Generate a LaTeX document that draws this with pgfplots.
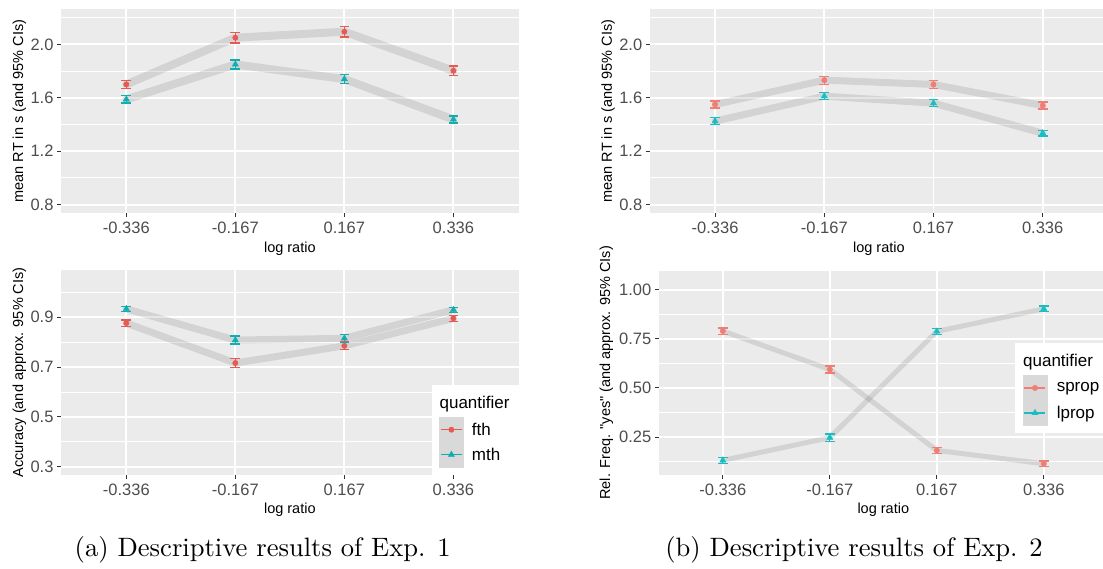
\documentclass[border=0pt]{standalone}
\usepackage{fontspec}
\usepackage{graphicx}
\usepackage{pgfplots}
\pgfplotsset{compat=1.18}
\newfontfamily\arial{Liberation Sans}
\definecolor{panel}{HTML}{EBEBEB}
\definecolor{g30}{HTML}{4D4D4D}
\definecolor{g20}{HTML}{333333}
\definecolor{redL}{HTML}{E65A53}
\definecolor{tealL}{HTML}{10ADB1}
\definecolor{redR}{HTML}{F07E75}
\definecolor{tealR}{HTML}{1ABEC2}
\definecolor{keyg}{HTML}{D9D9D9}

\pgfplotsset{
 gg/.style={
  scale only axis, anchor=south west,
  axis background/.style={fill=panel},
  axis line style={draw=none},
  xmin=0.4, xmax=4.6, xtick={1,2,3,4},
  xticklabels={-0.336,-0.167,0.167,0.336},
  xmajorgrids, ymajorgrids, yminorgrids,
  major grid style={white, line width=1.8pt},
  minor grid style={white, line width=0.9pt},
  tick pos=left, tick align=outside,
  major tick length=3.7pt, minor tick length=0pt,
  tick style={g20, line width=1pt},
  ticklabel style={font=\arial\fontsize{16.5}{18}\selectfont, text=g30},
  /pgf/number format/assume math mode=true,
  yticklabel style={inner xsep=3.5pt, /pgf/number format/fixed, /pgf/number format/fixed zerofill, /pgf/number format/precision=1},
  xticklabel style={inner ysep=5pt},
  label style={font=\arial\fontsize{14.5}{16}\selectfont, text=black},
  xlabel={log ratio},
  legend cell align=left,
 },
 band/.style={draw=black, draw opacity=0.1, line width=#1, line join=round, line cap=round, forget plot, no markers},
 pts/.style n args={3}{only marks, color=#1, mark=#2, mark size=#3, mark options={fill=#1, draw=#1, solid}, forget plot,
   error bars/.cd, y dir=both, y explicit, error bar style={line width=1.3pt, #1},
   error mark options={rotate=90, mark size=4.85pt, line width=1.3pt, #1}},
 leg/.style n args={3}{legend image code/.code={
  \fill[keyg] (0pt,-12.3pt) rectangle (24pt,12.3pt);
  \draw[#1, line width=1.3pt] (1.5pt,0pt) -- (22.5pt,0pt);
  \draw[#1, fill=#1, mark=#2, mark size=#3] plot coordinates {(12pt,0pt)};}},
 legtitle/.style={legend image code/.code={
  \path[draw=none, fill=none] (0pt,-14.4pt) rectangle (24pt,10pt);
  \node[overlay, draw=none, fill=none, anchor=west, inner sep=0pt, text=black, font=\arial\fontsize{17}{19}\selectfont] at (0pt,0pt) {quantifier};}},
}

\pgfplotstableread{
x y e
1 1.700 0.031
2 2.050 0.040
3 2.095 0.040
4 1.803 0.034
}\tlfth
\pgfplotstableread{
x y e
1 1.588 0.028
2 1.850 0.034
3 1.740 0.032
4 1.438 0.026
}\tlmth
\pgfplotstableread{
x y e
1 1.550 0.026
2 1.732 0.030
3 1.700 0.030
4 1.542 0.026
}\trsprop
\pgfplotstableread{
x y e
1 1.425 0.025
2 1.612 0.026
3 1.560 0.027
4 1.335 0.022
}\trlprop
\pgfplotstableread{
x y e
1 0.876 0.013
2 0.716 0.018
3 0.785 0.015
4 0.895 0.012
}\blfth
\pgfplotstableread{
x y e
1 0.933 0.011
2 0.808 0.016
3 0.815 0.016
4 0.929 0.011
}\blmth
\pgfplotstableread{
x y e
1 0.790 0.016
2 0.594 0.018
3 0.182 0.015
4 0.114 0.014
}\brsprop
\pgfplotstableread{
x y e
1 0.131 0.015
2 0.247 0.019
3 0.788 0.016
4 0.903 0.014
}\brlprop

\begin{document}
\begin{tikzpicture}
\path[use as bounding box] (0pt,0pt) rectangle (1103pt,568pt);
\clip (0pt,0pt) rectangle (1103pt,568pt);

% Top left
\begin{axis}[gg, at={(60.9pt,354.7pt)}, width=457.9pt, height=204.3pt,
  ymin=0.735, ymax=2.265, ytick={0.8,1.2,1.6,2.0}, minor ytick={1.0,1.4,1.8,2.2},
  ylabel={mean RT in s (and 95\% CIs)},
  xlabel style={at={(axis description cs:0.5,-0.1713)}, anchor=center},
  ylabel style={at={(axis description cs:-0.0909,0.5)}, anchor=center}]
\addplot[band=8pt] table[x=x,y=y] {\tlfth};
\addplot[band=8pt] table[x=x,y=y] {\tlmth};
\addplot[pts={redL}{*}{2.7pt}] table[x=x,y=y,y error=e] {\tlfth};
\addplot[pts={tealL}{triangle*}{3.6pt}] table[x=x,y=y,y error=e] {\tlmth};
\end{axis}

% Top right
\begin{axis}[gg, at={(649.6pt,354.7pt)}, width=458.6pt, height=204.3pt,
  ymin=0.735, ymax=2.265, ytick={0.8,1.2,1.6,2.0}, minor ytick={1.0,1.4,1.8,2.2},
  ylabel={mean RT in s (and 95\% CIs)},
  xlabel style={at={(axis description cs:0.5,-0.1713)}, anchor=center},
  ylabel style={at={(axis description cs:-0.0903,0.5)}, anchor=center}]
\addplot[band=7pt] table[x=x,y=y] {\trsprop};
\addplot[band=7pt] table[x=x,y=y] {\trlprop};
\addplot[pts={redR}{*}{2.7pt}] table[x=x,y=y,y error=e] {\trsprop};
\addplot[pts={tealR}{triangle*}{3.6pt}] table[x=x,y=y,y error=e] {\trlprop};
\end{axis}

% Bottom left
\begin{axis}[gg, at={(60.9pt,93pt)}, width=457.9pt, height=205pt,
  ymin=0.267, ymax=1.089, ytick={0.3,0.5,0.7,0.9}, minor ytick={0.4,0.6,0.8,1.0},
  ylabel={Accuracy (and approx. 95\% CIs)},
  xlabel style={at={(axis description cs:0.5,-0.1673)}, anchor=center},
  ylabel style={at={(axis description cs:-0.0909,0.5)}, anchor=center},
  legend style={at={(rel axis cs:1,0)}, anchor=south east, fill=white, draw=none,
    inner sep=7.6pt, row sep=0pt, font=\arial\fontsize{17}{19}\selectfont,
    nodes={inner sep=0pt, text width=39pt, anchor=west},
    /tikz/every odd column/.append style={column sep=8.4pt}}]
\addplot[band=7pt] table[x=x,y=y] {\blfth};
\addplot[band=7pt] table[x=x,y=y] {\blmth};
\addplot[pts={redL}{*}{2.7pt}] table[x=x,y=y,y error=e] {\blfth};
\addplot[pts={tealL}{triangle*}{3.6pt}] table[x=x,y=y,y error=e] {\blmth};
\addlegendimage{legtitle}\addlegendentry{}
\addlegendimage{leg={redL}{*}{2.7pt}}\addlegendentry{fth}
\addlegendimage{leg={tealL}{triangle*}{3.6pt}}\addlegendentry{mth}
\end{axis}

% Bottom right
\begin{axis}[gg, at={(658.6pt,93pt)}, width=449.4pt, height=204.2pt,
  ymin=0.0566, ymax=1.0967, ytick={0.25,0.5,0.75,1.0}, minor ytick={0.125,0.375,0.625,0.875},
  yticklabel style={/pgf/number format/precision=2},
  ylabel={Rel. Freq. "yes" (and approx. 95\% CIs)},
  xlabel style={at={(axis description cs:0.5,-0.168)}, anchor=center},
  ylabel style={at={(axis description cs:-0.1162,0.5)}, anchor=center},
  legend style={at={(rel axis cs:0.793,0.2044)}, anchor=south west, fill=white, draw=none,
    inner sep=7.6pt, row sep=0pt, font=\arial\fontsize{17}{19}\selectfont,
    nodes={inner sep=0pt, anchor=west},
    /tikz/every odd column/.append style={column sep=9.6pt}}]
\addplot[band=5pt] table[x=x,y=y] {\brsprop};
\addplot[band=5pt] table[x=x,y=y] {\brlprop};
\addplot[pts={redR}{*}{2.7pt}] table[x=x,y=y,y error=e] {\brsprop};
\addplot[pts={tealR}{triangle*}{3.6pt}] table[x=x,y=y,y error=e] {\brlprop};
\addlegendimage{legtitle}\addlegendentry{}
\addlegendimage{leg={redR}{*}{2.7pt}}\addlegendentry{sprop}
\addlegendimage{leg={tealR}{triangle*}{3.6pt}}\addlegendentry{lprop}
\end{axis}

\node[anchor=center, inner sep=0pt] at (262.7pt,18pt) {\scalebox{2.66}{(a) Descriptive results of Exp. 1}};
\node[anchor=center, inner sep=0pt] at (854pt,18pt) {\scalebox{2.66}{(b) Descriptive results of Exp. 2}};
\end{tikzpicture}
\end{document}
